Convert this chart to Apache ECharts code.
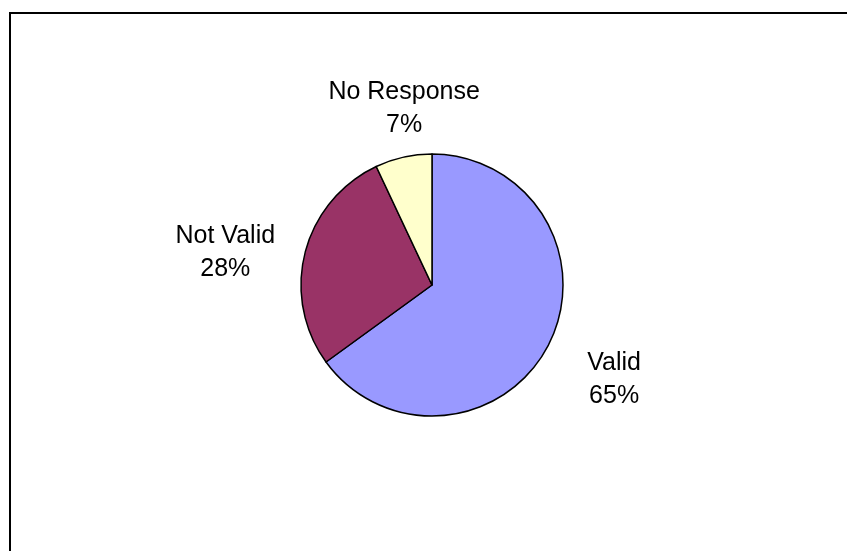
<!DOCTYPE html>
<html>
<head>
<meta charset="utf-8">
<script src="https://cdn.jsdelivr.net/npm/echarts@6/dist/echarts.min.js"></script>
<style>
html,body{margin:0;padding:0;background:#fff;}
#chart{width:847px;height:551px;}
</style>
</head>
<body>
<div id="chart"></div>
<script>
const categories = ['Valid', 'Not Valid', 'No Response'];
const values = [65, 28, 7];
const colors = ['#9999FF', '#993366', '#FFFFCC'];

// small label nudges (Excel-style placement), indexed like categories
const labelNudge = [[-2, 3], [-7, 18], [21, 20]];

const chart = echarts.init(document.getElementById('chart'), null, {renderer: 'canvas'});
chart.setOption({
  backgroundColor: '#ffffff',
  animation: false,
  graphic: [{
    type: 'rect',
    shape: {x: 10, y: 13, width: 1000, height: 1000},
    style: {fill: 'none', stroke: '#000', lineWidth: 2},
    silent: true
  }],
  series: [{
    type: 'pie',
    center: [432, 285],
    radius: 131,
    startAngle: 90,
    clockwise: true,
    avoidLabelOverlap: false,
    itemStyle: {borderColor: '#000', borderWidth: 1.5},
    label: {
      show: true,
      position: 'outside',
      formatter: '{b}\n{d}%',
      fontFamily: 'Liberation Sans, Arial, sans-serif',
      fontSize: 25,
      lineHeight: 33,
      color: '#000'
    },
    labelLine: {show: false, length: 70, length2: 0},
    labelLayout: function (p) {
      const n = labelNudge[p.dataIndex];
      return {align: 'center', verticalAlign: 'middle', dx: n[0], dy: n[1]};
    },
    data: categories.map((c, i) => ({name: c, value: values[i], itemStyle: {color: colors[i]}}))
  }]
});
</script>
</body>
</html>
